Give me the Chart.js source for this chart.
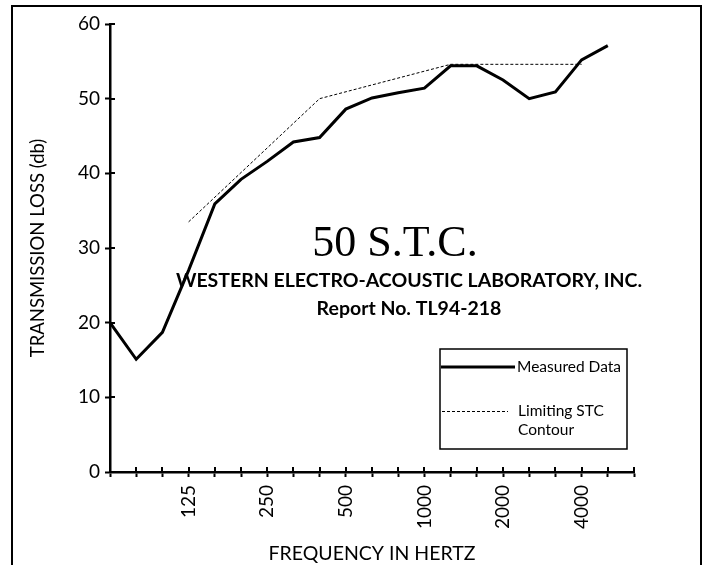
<!DOCTYPE html>
<html>
<head>
<meta charset="utf-8">
<script src="https://cdn.jsdelivr.net/npm/chart.js@4.4.1/dist/chart.umd.min.js"></script>
<style>
  html, body { margin: 0; padding: 0; background: #fff; }
  #wrap { position: relative; width: 705px; height: 565px; }
</style>
</head>
<body>
<div id="wrap"><canvas id="chartCanvas" width="705" height="565"></canvas></div>
<script>
// 1/3 octave bands, measured transmission loss and the fitted STC contour
const frequencies = ["63", "80", "100", "125", "160", "200", "250", "315", "400", "500",
  "630", "800", "1000", "1250", "1600", "2000", "2500", "3150", "4000", "5000", "6300"];
const shownLabels = ["125", "250", "500", "1000", "2000", "4000"];
const measuredData = [20.0, 15.1, 18.7, 27.0, 35.9, 39.2, 41.6, 44.2, 44.8, 48.6,
  50.1, 50.8, 51.4, 54.4, 54.4, 52.5, 50.0, 50.9, 55.2, 57.1, null];
const stcContour = [null, null, null, 33.5, null, null, null, null, 50.0, null,
  null, null, null, 54.6, null, null, null, null, 54.6, null, null];
const yTicks = [0, 10, 20, 30, 40, 50, 60];

const FONT = "Lato";

// inner half of the axis tick marks (chart.js only draws the outer half)
const crossTicks = {
  id: "crossTicks",
  afterDraw(chart) {
    const ctx = chart.ctx;
    const x = chart.scales.x;
    const y = chart.scales.y;
    ctx.save();
    ctx.strokeStyle = "#000";
    ctx.lineWidth = 2;
    ctx.beginPath();
    for (let i = 0; i < x.ticks.length; i++) {
      const px = Math.round(x.getPixelForTick(i));
      ctx.moveTo(px, chart.chartArea.bottom);
      ctx.lineTo(px, chart.chartArea.bottom - 5);
    }
    for (let i = 0; i < y.ticks.length; i++) {
      const py = Math.round(y.getPixelForTick(i));
      ctx.moveTo(chart.chartArea.left, py);
      ctx.lineTo(chart.chartArea.left + 5, py);
    }
    ctx.stroke();
    ctx.restore();
  }
};

// outer frame, notes and the boxed legend
const decorations = {
  id: "decorations",
  afterDraw(chart) {
    const ctx = chart.ctx;
    ctx.save();

    ctx.strokeStyle = "#000";
    ctx.lineWidth = 2;
    ctx.beginPath();
    ctx.moveTo(12, 565);
    ctx.lineTo(12, 6);
    ctx.lineTo(701, 6);
    ctx.lineTo(701, 565);
    ctx.stroke();

    ctx.fillStyle = "#000";
    ctx.textAlign = "center";
    ctx.textBaseline = "middle";
    ctx.font = "44px 'Liberation Serif'";
    ctx.fillText("50 S.T.C.", 395, 244);
    ctx.font = "bold 19.5px " + FONT;
    ctx.fillText("WESTERN ELECTRO-ACOUSTIC LABORATORY, INC.", 409, 281);
    ctx.fillText("Report No. TL94-218", 409, 309);

    // legend
    const ds = chart.data.datasets;
    ctx.fillStyle = "#fff";
    ctx.fillRect(440, 349, 187, 100);
    ctx.lineWidth = 1.5;
    ctx.strokeRect(440, 349, 187, 100);

    ctx.strokeStyle = ds[0].borderColor;
    ctx.lineWidth = ds[0].borderWidth;
    ctx.beginPath();
    ctx.moveTo(441, 367);
    ctx.lineTo(515, 367);
    ctx.stroke();

    ctx.strokeStyle = ds[1].borderColor;
    ctx.lineWidth = ds[1].borderWidth;
    ctx.setLineDash(ds[1].borderDash);
    ctx.beginPath();
    ctx.moveTo(442, 411.5);
    ctx.lineTo(508, 411.5);
    ctx.stroke();
    ctx.setLineDash([]);

    ctx.fillStyle = "#000";
    ctx.textAlign = "left";
    ctx.font = "15.5px " + FONT;
    ctx.fillText(ds[0].label, 517, 367);
    ctx.fillText("Limiting STC", 518, 411);
    ctx.fillText("Contour", 518, 430);

    ctx.restore();
  }
};

const ctx = document.getElementById("chartCanvas").getContext("2d");
const chart = new Chart(ctx, {
  type: "line",
  data: {
    labels: frequencies,
    datasets: [
      {
        label: "Measured Data",
        data: measuredData,
        borderColor: "#000",
        borderWidth: 3,
        pointRadius: 0,
        tension: 0,
        fill: false
      },
      {
        label: "Limiting STC Contour",
        data: stcContour,
        borderColor: "#000",
        borderWidth: 1,
        borderDash: [3, 2],
        pointRadius: 0,
        tension: 0,
        spanGaps: true,
        fill: false
      }
    ]
  },
  options: {
    responsive: false,
    animation: false,
    layout: { padding: { left: 0, top: 24, right: 71, bottom: 0 } },
    plugins: {
      legend: { display: false },
      tooltip: { enabled: false }
    },
    scales: {
      x: {
        type: "category",
        offset: false,
        afterFit(scale) { scale.height = 93; },
        border: { display: true, color: "#000", width: 2.5 },
        grid: { display: true, drawOnChartArea: false, drawTicks: true, tickLength: 5, tickWidth: 2, tickColor: "#000" },
        ticks: {
          autoSkip: false,
          maxRotation: 90,
          minRotation: 90,
          padding: 8,
          color: "#000",
          font: { family: FONT, size: 19 },
          callback(value, index) {
            const f = frequencies[index];
            return shownLabels.includes(f) ? f : "";
          }
        },
        title: {
          display: true,
          text: "FREQUENCY IN HERTZ",
          color: "#000",
          font: { family: FONT, size: 19.5 },
          padding: { top: 0, bottom: 0 }
        }
      },
      y: {
        min: yTicks[0],
        max: yTicks[yTicks.length - 1],
        afterFit(scale) { scale.width = 110; },
        afterBuildTicks(scale) { scale.ticks = yTicks.map(v => ({ value: v })); },
        border: { display: true, color: "#000", width: 2.5 },
        grid: { display: true, drawOnChartArea: false, drawTicks: true, tickLength: 5, tickWidth: 2, tickColor: "#000" },
        ticks: {
          padding: 5,
          color: "#000",
          font: { family: FONT, size: 19 }
        },
        title: {
          display: true,
          text: "TRANSMISSION LOSS (db)",
          color: "#000",
          font: { family: FONT, size: 18.5 },
          padding: { top: 27, bottom: 0 }
        }
      }
    }
  },
  plugins: [crossTicks, decorations]
});
</script>
</body>
</html>
